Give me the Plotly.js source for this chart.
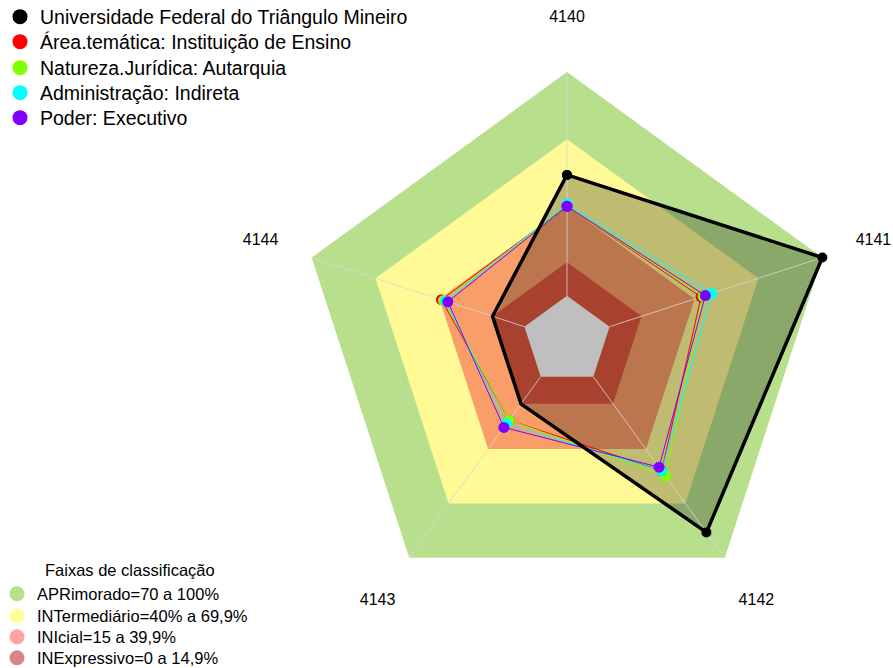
<!DOCTYPE html>
<html><head><meta charset="utf-8">
<script src="https://cdn.plot.ly/plotly-3.0.1.min.js"></script>
<style>html,body{margin:0;padding:0;background:#fff}#chart{width:893px;height:668px}</style>
</head><body><div id="chart"></div><script>
// ---- data ----
const categories = ["4140", "4141", "4142", "4143", "4144"];
const seriesNames = [
  "Universidade Federal do Triângulo Mineiro",
  "Área.temática: Instituição de Ensino",
  "Natureza.Jurídica: Autarquia",
  "Administração: Indireta",
  "Poder: Executivo"
];
const uftm = [54, 100, 86, 15, 15];
const areaTematica = [40, 43, 52, 24, 39];
const naturezaJuridica = [40, 44, 55, 24, 38];
const administracao = [41, 48, 52, 26, 37];
const poder = [40, 45, 50, 28, 36];
const bandNames = ["APRimorado=70 a 100%", "INTermediário=40% a 69,9%", "INIcial=15 a 39,9%", "INExpressivo=0 a 14,9%"];
const bandUpper = [100, 70, 40, 15];
const bandMin = 0;
const legendTitle = "Faixas de classificação";

// ---- styles ----
const FONT = "Liberation Sans, Arial, sans-serif";
const seriesColors = ["#000000", "#FF0000", "#80FF00", "#00FFFF", "#8000FF"];
const bandColors = ["#B8E08C", "#FFFA96", "#FA9E69", "#E0573C"];
const bandLegendColors = ["#B8E08C", "#FFFF99", "#FFA3A3", "#D98585"];
const radialRange = [-20, 124];
const labelR = 124;

const close = a => a.concat([a[0]]);
const thetaC = close(categories);
const traces = [];

// bands
bandUpper.forEach((u, i) => {
  traces.push({type: "scatterpolar", mode: "lines", r: close(categories.map(() => u)), theta: thetaC,
    fill: "toself", fillcolor: bandColors[i], line: {width: 0, color: bandColors[i]},
    showlegend: false, hoverinfo: "skip"});
});
// centre (below minimum)
traces.push({type: "scatterpolar", mode: "lines", r: close(categories.map(() => bandMin)), theta: thetaC,
  fill: "toself", fillcolor: "#FFFFFF", line: {width: 0, color: "#FFFFFF"}, showlegend: false, hoverinfo: "skip"});
// UFTM fill
traces.push({type: "scatterpolar", mode: "lines", r: close(uftm), theta: thetaC,
  fill: "toself", fillcolor: "rgba(0,0,0,0.25)", line: {width: 0, color: "rgba(0,0,0,0)"}, showlegend: false, hoverinfo: "skip"});
// spokes
categories.forEach(c => {
  traces.push({type: "scatterpolar", mode: "lines", r: [bandMin, bandUpper[0]], theta: [c, c],
    line: {width: 1, color: "rgba(215,215,215,0.8)"}, showlegend: false, hoverinfo: "skip"});
});
// comparison series
[areaTematica, naturezaJuridica, administracao, poder].forEach((s, i) => {
  traces.push({type: "scatterpolar", mode: "lines+markers", r: close(s), theta: thetaC,
    line: {width: 1, color: seriesColors[i + 1]}, marker: {size: 11, color: seriesColors[i + 1]},
    name: seriesNames[i + 1], showlegend: false});
});
// UFTM line
traces.push({type: "scatterpolar", mode: "lines+markers", r: close(uftm), theta: thetaC,
  line: {width: 3.5, color: "#000000"}, marker: {size: 10, color: "#000000"},
  name: seriesNames[0], showlegend: false});
// category labels
traces.push({type: "scatterpolar", mode: "text", r: categories.map(() => labelR), theta: categories,
  text: categories, textposition: "middle center", textfont: {size: 16, color: "#000", family: FONT},
  cliponaxis: false, showlegend: false, hoverinfo: "skip"});

const W = 893, H = 668, cx = 567, cy = 340.5, R = 322.2;
const layout = {
  width: W, height: H, margin: {l: 0, r: 0, t: 0, b: 0, autoexpand: false},
  paper_bgcolor: "#FFFFFF", font: {family: FONT, color: "#000"},
  polar: {
    domain: {x: [(cx - R) / W, (cx + R) / W], y: [(H - cy - R) / H, (H - cy + R) / H]},
    gridshape: "linear", bgcolor: "rgba(0,0,0,0)",
    radialaxis: {range: radialRange, visible: false},
    angularaxis: {type: "category", categoryarray: categories, rotation: 90, direction: "clockwise",
      showticklabels: false, showline: false, showgrid: false, ticks: ""}
  },
  annotations: [{xref: "paper", yref: "paper", x: 43 / W, y: 1 - 570 / H, xanchor: "left", yanchor: "middle",
    text: legendTitle, showarrow: false, font: {size: 16.5, family: FONT, color: "#000"}}]
};
// one legend box per entry, so rows can be spaced like the reference
const topRows = [17, 42, 68, 93, 118];
const bottomRows = [594, 616, 637, 658];
let li = 0;
const legendId = () => { li++; return li === 1 ? "legend" : "legend" + li; };
seriesNames.forEach((n, i) => {
  const id = legendId();
  traces.push({type: "scatterpolar", mode: "markers", r: [null], theta: [null], name: n,
    marker: {size: 15, color: seriesColors[i]}, legend: id, showlegend: true});
  layout[id] = {x: 0, y: 1 - topRows[i] / H, xanchor: "left", yanchor: "middle",
    font: {size: 19.5, family: FONT}, bgcolor: "rgba(0,0,0,0)"};
});
bandNames.forEach((n, i) => {
  const id = legendId();
  traces.push({type: "scatterpolar", mode: "markers", r: [null], theta: [null], name: n,
    marker: {size: 15, color: bandLegendColors[i]}, legend: id, showlegend: true});
  layout[id] = {x: -3 / W, y: 1 - bottomRows[i] / H, xanchor: "left", yanchor: "middle",
    font: {size: 16.5, family: FONT}, bgcolor: "rgba(0,0,0,0)"};
});
Plotly.newPlot("chart", traces, layout, {displayModeBar: false, staticPlot: true});
</script></body></html>
